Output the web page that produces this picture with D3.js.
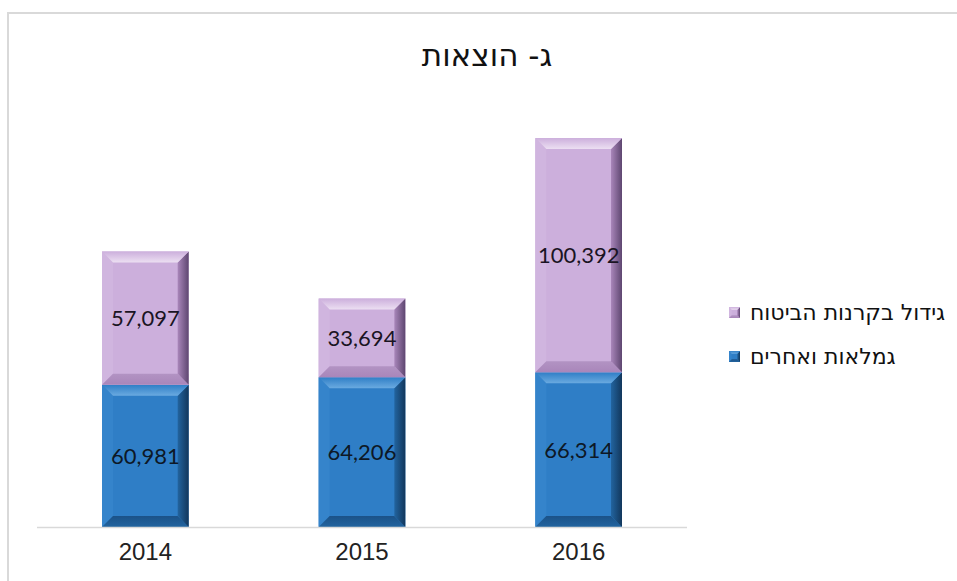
<!DOCTYPE html>
<html>
<head>
<meta charset="utf-8">
<script src="https://cdn.jsdelivr.net/npm/d3@7"></script>
<style>
  html, body { margin: 0; padding: 0; background: #fff; }
  svg { display: block; }
</style>
</head>
<body>
<div id="chart"></div>
<script>
// ---------- Data ----------
const years = ["2014", "2015", "2016"];
const pensions = [60981, 64206, 66314];      // גמלאות ואחרים
const reserves = [57097, 33694, 100392];     // גידול בקרנות הביטוח
const seriesNames = ["גמלאות ואחרים", "גידול בקרנות הביטוח"];
const titleText = "ג- הוצאות";

const W = 957, H = 581;
const svg = d3.select("#chart").append("svg").attr("width", W).attr("height", H);

// frame
svg.append("path")
  .attr("d", `M8,${H} L8,13 L${W},13`)
  .attr("fill", "none")
  .attr("stroke", "#d9d9d9")
  .attr("stroke-width", 2);

const x = d3.scaleBand().domain(years).range([37, 687]).paddingInner(0.6).paddingOuter(0.3);
const y = d3.scaleLinear().domain([0, 180000]).range([527, 107]);

const styles = [
  { id: "b", base: "#2f7ec6", hi: "#6aaae0", left: "#3584cb", dark: "#22649f", bot: "#1b5288", deep: "#12375c", text: "#0d1826" },
  { id: "p", base: "#ccafdc", hi: "#ecdff2", left: "#d0b5df", dark: "#a986ba", bot: "#b293c3", deep: "#5e4670", text: "#1a1423" }
];

const defs = svg.append("defs");
styles.forEach(s => {
  const top = defs.append("linearGradient").attr("id", "top-" + s.id)
    .attr("x1", 0).attr("y1", 0).attr("x2", 0).attr("y2", 1);
  top.append("stop").attr("offset", "0%").attr("stop-color", s.base);
  top.append("stop").attr("offset", "100%").attr("stop-color", s.hi);
  const right = defs.append("linearGradient").attr("id", "right-" + s.id)
    .attr("x1", 0).attr("y1", 0).attr("x2", 1).attr("y2", 0);
  right.append("stop").attr("offset", "0%").attr("stop-color", s.dark);
  right.append("stop").attr("offset", "100%").attr("stop-color", s.deep);
  const bot = defs.append("linearGradient").attr("id", "bot-" + s.id)
    .attr("x1", 0).attr("y1", 0).attr("x2", 0).attr("y2", 1);
  bot.append("stop").attr("offset", "0%").attr("stop-color", s.bot);
  bot.append("stop").attr("offset", "100%").attr("stop-color", s.dark);
});

// bevelled rectangle
function bevelBar(g, x0, y0, w, h, s, b) {
  b = Math.min(b, h / 4);
  const x1 = x0 + w, y1 = y0 + h;
  g.append("rect").attr("x", x0).attr("y", y0).attr("width", w).attr("height", h).attr("fill", s.base);
  const faces = [
    { pts: [[x0, y0], [x0 + b, y0 + b], [x0 + b, y1 - b], [x0, y1]], fill: s.left },
    { pts: [[x0, y1], [x0 + b, y1 - b], [x1 - b, y1 - b], [x1, y1]], fill: `url(#bot-${s.id})` },
    { pts: [[x1, y0], [x1, y1], [x1 - b, y1 - b], [x1 - b, y0 + b]], fill: `url(#right-${s.id})` },
    { pts: [[x0, y0], [x1, y0], [x1 - b, y0 + b], [x0 + b, y0 + b]], fill: `url(#top-${s.id})` }
  ];
  faces.forEach(f => {
    g.append("polygon").attr("points", f.pts.map(p => p.join(",")).join(" ")).attr("fill", f.fill);
  });
}

const fmt = d3.format(",");

// stack
const stackData = years.map((yr, i) => ({ year: yr, vals: [pensions[i], reserves[i]] }));
const bars = svg.append("g");
stackData.forEach(d => {
  let acc = 0;
  d.vals.forEach((v, k) => {
    const yTop = y(acc + v), yBot = y(acc);
    bevelBar(bars, x(d.year), yTop, x.bandwidth(), yBot - yTop, styles[k], 11);
    bars.append("text")
      .attr("x", x(d.year) + x.bandwidth() / 2)
      .attr("y", (yTop + yBot) / 2 + 8)
      .attr("text-anchor", "middle")
      .attr("font-family", "Lato, 'Open Sans', sans-serif")
      .attr("font-size", 22)
      .attr("fill", styles[k].text)
      .text(fmt(v));
    acc += v;
  });
});

// axis
const axis = svg.append("g").attr("transform", "translate(0,527)")
  .call(d3.axisBottom(x).tickSize(0).tickPadding(16));
axis.select(".domain").attr("stroke", "#d9d9d9").attr("stroke-width", 1.5)
  .attr("d", "M37,0.5H687");
axis.selectAll("text")
  .attr("font-family", "'Liberation Sans', Arial, sans-serif")
  .attr("font-size", 24)
  .attr("fill", "#222");

// title
svg.append("text")
  .attr("x", 487).attr("y", 66)
  .attr("text-anchor", "middle")
  .attr("font-family", "'DejaVu Sans', sans-serif")
  .attr("font-size", 31)
  .attr("fill", "#111")
  .text(titleText);

// legend (top entry first), text starts right of the marker
const legend = svg.append("g");
[1, 0].forEach((k, row) => {
  const yy = 320 + row * 44;
  bevelBar(legend, 729, yy - 13, 11, 11, styles[k], 3);
  legend.append("text")
    .attr("x", 750).attr("y", yy)
    .attr("text-anchor", "start")
    .attr("font-family", "'DejaVu Sans', sans-serif")
    .attr("font-size", 22)
    .attr("fill", "#111")
    .text(seriesNames[k]);
});
</script>
</body>
</html>
